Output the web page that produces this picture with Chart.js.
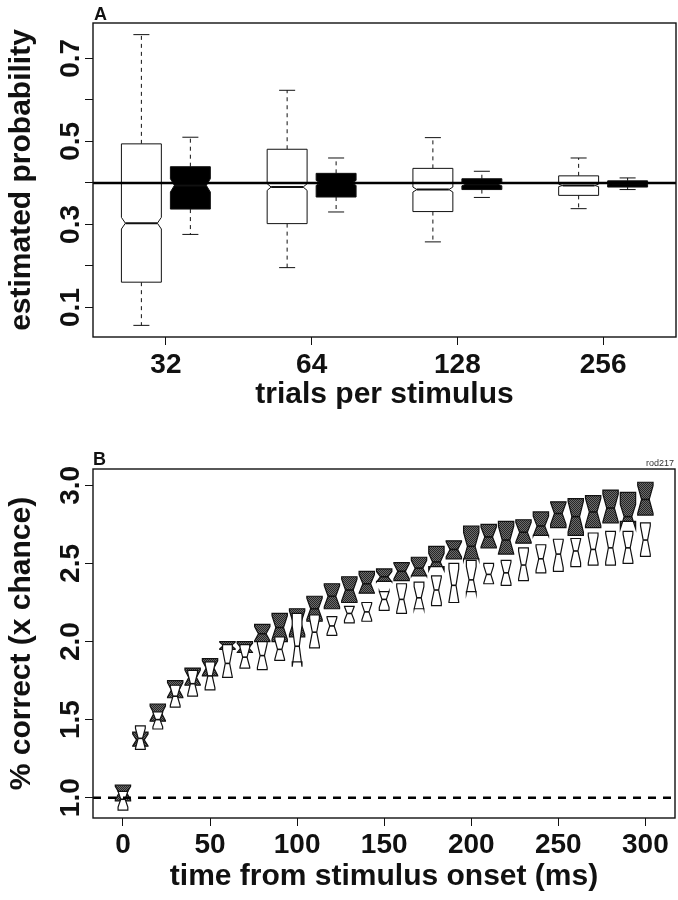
<!DOCTYPE html>
<html>
<head>
<meta charset="utf-8">
<script src="https://cdn.jsdelivr.net/npm/chart.js@4"></script>
<style>
  html, body { margin: 0; padding: 0; background: #fff; }
  body { width: 678px; height: 900px; position: relative; overflow: hidden; }
  canvas { position: absolute; left: 0; }
  #panelA { top: 0; }
  #panelB { top: 440px; }
</style>
</head>
<body>
<canvas id="panelA" width="678" height="430"></canvas>
<canvas id="panelB" width="678" height="460"></canvas>
<script>
// ---- panel A: estimated probability by trials per stimulus ----
const trials = ['32', '64', '128', '256'];
const yTicksA = [0.1, 0.2, 0.3, 0.4, 0.5, 0.6, 0.7];
const yLabelsA = ['0.1', '', '0.3', '', '0.5', '', '0.7'];
const trueProb = 0.4;

// open (white) boxes
const openLo    = [0.057, 0.196, 0.258, 0.338];
const openQ1    = [0.161, 0.302, 0.331, 0.370];
const openMed   = [0.303, 0.390, 0.384, 0.394];
const openQ3    = [0.494, 0.481, 0.435, 0.417];
const openHi    = [0.757, 0.623, 0.509, 0.460];
const openNotch = [0.014, 0.008, 0.006, 0.003];

// filled (black) boxes
const filledLo    = [0.276, 0.330, 0.365, 0.384];
const filledQ1    = [0.337, 0.366, 0.384, 0.390];
const filledMed   = [0.394, 0.400, 0.397, 0.399];
const filledQ3    = [0.439, 0.423, 0.410, 0.405];
const filledHi    = [0.510, 0.460, 0.428, 0.412];
const filledNotch = [0.016, 0.006, 0.004, 0.002];

// ---- panel B: % correct (x chance) over time ----
const times = [0, 10, 20, 30, 40, 50, 60, 70, 80, 90, 100, 110, 120, 130, 140, 150,
               160, 170, 180, 190, 200, 210, 220, 230, 240, 250, 260, 270, 280, 290, 300];
const xTicksB = [0, 50, 100, 150, 200, 250, 300];
const yTicksB = [1.0, 1.5, 2.0, 2.5, 3.0];
const chanceLevel = 1.0;
const nTrialsB = 14;

const grayQ1  = [0.98, 1.33, 1.49, 1.64, 1.72, 1.78, 1.95, 1.93, 2.00, 2.00, 2.03, 2.13, 2.21, 2.25, 2.31, 2.385,
                 2.39, 2.42, 2.48, 2.53, 2.53, 2.60, 2.56, 2.63, 2.68, 2.73, 2.68, 2.73, 2.76, 2.77, 2.81];
const grayMed = [1.03, 1.37, 1.54, 1.69, 1.77, 1.83, 1.975, 1.96, 2.05, 2.09, 2.12, 2.21, 2.29, 2.33, 2.37, 2.415,
                 2.45, 2.47, 2.51, 2.59, 2.61, 2.67, 2.65, 2.70, 2.74, 2.82, 2.80, 2.83, 2.855, 2.80, 2.91];
const grayQ3  = [1.08, 1.42, 1.60, 1.75, 1.83, 1.89, 2.00, 2.00, 2.11, 2.18, 2.21, 2.29, 2.37, 2.415, 2.45, 2.465,
                 2.505, 2.54, 2.61, 2.645, 2.74, 2.75, 2.77, 2.78, 2.83, 2.895, 2.915, 2.935, 2.97, 2.955, 3.02];

const whiteQ1  = [0.92, 1.31, 1.44, 1.58, 1.65, 1.69, 1.77, 1.83, 1.82, 1.88, 1.87, 1.96, 2.04, 2.12, 2.13, 2.20,
                  2.18, 2.21, 2.23, 2.25, 2.32, 2.37, 2.36, 2.39, 2.44, 2.45, 2.48, 2.49, 2.49, 2.50, 2.545];
const whiteMed = [0.99, 1.38, 1.50, 1.65, 1.73, 1.78, 1.86, 1.90, 1.91, 1.95, 1.97, 2.06, 2.10, 2.18, 2.19, 2.27,
                  2.27, 2.28, 2.33, 2.36, 2.395, 2.43, 2.44, 2.49, 2.53, 2.56, 2.58, 2.59, 2.60, 2.60, 2.65];
const whiteQ3  = [1.04, 1.46, 1.55, 1.72, 1.815, 1.87, 1.98, 1.98, 2.00, 2.03, 2.18, 2.17, 2.16, 2.225, 2.25, 2.32,
                  2.37, 2.38, 2.42, 2.50, 2.52, 2.50, 2.52, 2.60, 2.62, 2.655, 2.66, 2.695, 2.705, 2.705, 2.76];

const INK = '#111';
const FAMILY = '"Liberation Sans", Arial, sans-serif';
const tickFont = { family: FAMILY, size: 28, weight: 'bold' };
const titleFont = { family: FAMILY, size: 30, weight: 'bold' };

function stipple(ctx) {
    const c = document.createElement('canvas');
    c.width = 2; c.height = 2;
    const g = c.getContext('2d');
    g.fillStyle = '#6c6c6c';
    g.fillRect(0, 0, 2, 2);
    g.fillStyle = '#262626';
    g.fillRect(0, 0, 1, 1);
    g.fillRect(1, 1, 1, 1);
    return ctx.createPattern(c, 'repeat');
}

// notched box outline, same vertex order as R's bxp
function notchPath(ctx, xs, ys, pos, half, frac, q1, med, q3, nlo, nhi) {
    const L = xs.getPixelForValue(pos - half), R = xs.getPixelForValue(pos + half);
    const Li = xs.getPixelForValue(pos - half * frac), Ri = xs.getPixelForValue(pos + half * frac);
    const pts = [[L, q1], [R, q1], [R, nlo], [Ri, med], [R, nhi], [R, q3], [L, q3], [L, nhi], [Li, med], [L, nlo]];
    ctx.beginPath();
    pts.forEach(([px, v], i) => {
        const py = ys.getPixelForValue(v);
        if (i) ctx.lineTo(px, py); else ctx.moveTo(px, py);
    });
    ctx.closePath();
    return [Li, Ri, ys.getPixelForValue(med)];
}

function frame(chart) {
    const { ctx, chartArea: a } = chart;
    ctx.save();
    ctx.strokeStyle = INK;
    ctx.lineWidth = 1.4;
    ctx.strokeRect(a.left, a.top, a.right - a.left, a.bottom - a.top);
    ctx.restore();
}

const boxesA = {
    id: 'boxesA',
    afterDatasetsDraw(chart) {
        const { ctx, chartArea: a, scales: { x, y } } = chart;
        const half = 0.137, shift = 0.168, frac = 0.8, staple = 0.055;
        ctx.save();
        ctx.beginPath();
        ctx.rect(a.left, a.top, a.right - a.left, a.bottom - a.top);
        ctx.clip();

        const series = [
            { off: -shift, lo: openLo, q1: openQ1, med: openMed, q3: openQ3, hi: openHi, n: openNotch, fill: '#fff' },
            { off: shift, lo: filledLo, q1: filledQ1, med: filledMed, q3: filledQ3, hi: filledHi, n: filledNotch, fill: '#000' }
        ];

        series.forEach(s => {
            trials.forEach((_, i) => {
                const pos = i + s.off;
                const px = x.getPixelForValue(pos);
                // dashed whiskers with staples
                ctx.strokeStyle = INK;
                ctx.lineWidth = 1;
                ctx.setLineDash([4, 4]);
                ctx.beginPath();
                ctx.moveTo(px, y.getPixelForValue(s.q3[i]));
                ctx.lineTo(px, y.getPixelForValue(s.hi[i]));
                ctx.moveTo(px, y.getPixelForValue(s.q1[i]));
                ctx.lineTo(px, y.getPixelForValue(s.lo[i]));
                ctx.stroke();
                ctx.setLineDash([]);
                ctx.beginPath();
                [s.hi[i], s.lo[i]].forEach(v => {
                    const py = y.getPixelForValue(v);
                    ctx.moveTo(x.getPixelForValue(pos - staple), py);
                    ctx.lineTo(x.getPixelForValue(pos + staple), py);
                });
                ctx.stroke();
            });
        });

        series.forEach(s => {
            trials.forEach((_, i) => {
                const pos = i + s.off;
                const [Li, Ri, my] = notchPath(ctx, x, y, pos, half, frac,
                    s.q1[i], s.med[i], s.q3[i], s.med[i] - s.n[i], s.med[i] + s.n[i]);
                ctx.fillStyle = s.fill;
                ctx.fill();
                ctx.strokeStyle = INK;
                ctx.lineWidth = 1;
                ctx.stroke();
                ctx.lineWidth = 2;
                ctx.beginPath();
                ctx.moveTo(Li, my);
                ctx.lineTo(Ri, my);
                ctx.stroke();
            });
        });

        // true probability
        const ry = y.getPixelForValue(trueProb);
        ctx.strokeStyle = '#000';
        ctx.lineWidth = 2.5;
        ctx.beginPath();
        ctx.moveTo(a.left, ry);
        ctx.lineTo(a.right, ry);
        ctx.stroke();
        ctx.restore();

        frame(chart);
        ctx.save();
        ctx.fillStyle = INK;
        ctx.font = 'bold 18px ' + FAMILY;
        ctx.fillText('A', a.left + 1, a.top - 3);
        ctx.restore();
    }
};

const boxesB = {
    id: 'boxesB',
    afterDatasetsDraw(chart) {
        const { ctx, chartArea: a, scales: { x, y } } = chart;
        const k = 1.58 / Math.sqrt(nTrialsB);
        const gray = stipple(ctx);
        ctx.save();
        ctx.beginPath();
        ctx.rect(a.left, a.top, a.right - a.left, a.bottom - a.top);
        ctx.clip();

        const series = [
            { half: 4.4, frac: 0.5, q1: grayQ1, med: grayMed, q3: grayQ3, fill: gray },
            { half: 2.8, frac: 0.45, q1: whiteQ1, med: whiteMed, q3: whiteQ3, fill: '#fff' }
        ];
        series.forEach(s => {
            times.forEach((t, i) => {
                const c = k * (s.q3[i] - s.q1[i]);
                const [Li, Ri, my] = notchPath(ctx, x, y, t, s.half, s.frac,
                    s.q1[i], s.med[i], s.q3[i], s.med[i] - c, s.med[i] + c);
                ctx.fillStyle = s.fill;
                ctx.fill();
                ctx.strokeStyle = INK;
                ctx.lineWidth = 1.2;
                ctx.stroke();
                ctx.lineWidth = 1.6;
                ctx.beginPath();
                ctx.moveTo(Li, my);
                ctx.lineTo(Ri, my);
                ctx.stroke();
            });
        });

        const cy = y.getPixelForValue(chanceLevel);
        ctx.strokeStyle = '#000';
        ctx.lineWidth = 2.5;
        ctx.setLineDash([8, 7]);
        ctx.beginPath();
        ctx.moveTo(a.left, cy);
        ctx.lineTo(a.right, cy);
        ctx.stroke();
        ctx.restore();

        frame(chart);
        ctx.save();
        ctx.fillStyle = INK;
        ctx.font = 'bold 18px ' + FAMILY;
        ctx.fillText('B', a.left, a.top - 4);
        ctx.font = '9px ' + FAMILY;
        ctx.fillStyle = '#333';
        ctx.textAlign = 'right';
        ctx.fillText('rod217', a.right - 1, a.top - 3);
        ctx.restore();
    }
};

function axisGrid() {
    return { drawOnChartArea: false, drawTicks: true, tickLength: 8, color: INK, lineWidth: 1 };
}

new Chart(document.getElementById('panelA'), {
    type: 'line',
    data: {
        labels: trials,
        datasets: [
            { data: openMed, showLine: false, pointRadius: 0 },
            { data: filledMed, showLine: false, pointRadius: 0 }
        ]
    },
    options: {
        responsive: false,
        animation: false,
        devicePixelRatio: 1,
        layout: { padding: { top: 23, right: 2, left: 0, bottom: 0 } },
        plugins: { legend: { display: false }, tooltip: { enabled: false } },
        scales: {
            x: {
                type: 'category',
                offset: true,
                border: { display: false },
                grid: axisGrid(),
                ticks: { font: tickFont, color: INK, padding: 3, maxRotation: 0, autoSkip: false },
                title: { display: true, text: 'trials per stimulus', font: titleFont, color: INK, padding: { top: 0, bottom: 17 } },
                afterFit: s => { s.height = 93; }
            },
            y: {
                min: 0.029,
                max: 0.785,
                border: { display: false },
                grid: axisGrid(),
                afterBuildTicks: s => { s.ticks = yTicksA.map(v => ({ value: v })); },
                ticks: {
                    font: tickFont, color: INK, autoSkip: false,
                    minRotation: 90, maxRotation: 90, crossAlign: 'center', padding: -6,
                    callback: (v, i) => yLabelsA[i]
                },
                title: { display: true, text: 'estimated probability', font: titleFont, color: INK, padding: { top: 4, bottom: 0 } },
                afterFit: s => { s.width = 93; }
            }
        }
    },
    plugins: [boxesA]
});

new Chart(document.getElementById('panelB'), {
    type: 'scatter',
    data: {
        datasets: [
            { data: times.map((t, i) => ({ x: t, y: grayMed[i] })), pointRadius: 0 },
            { data: times.map((t, i) => ({ x: t, y: whiteMed[i] })), pointRadius: 0 }
        ]
    },
    options: {
        responsive: false,
        animation: false,
        devicePixelRatio: 1,
        layout: { padding: { top: 29, right: 3, left: 0, bottom: 0 } },
        plugins: { legend: { display: false }, tooltip: { enabled: false } },
        scales: {
            x: {
                type: 'linear',
                min: -17.2,
                max: 317,
                border: { display: false },
                grid: axisGrid(),
                afterBuildTicks: s => { s.ticks = xTicksB.map(v => ({ value: v })); },
                ticks: { font: tickFont, color: INK, padding: 2, maxRotation: 0, autoSkip: false, callback: v => String(v) },
                title: { display: true, text: 'time from stimulus onset (ms)', font: titleFont, color: INK, padding: { top: 0, bottom: 5 } },
                afterFit: s => { s.height = 82; }
            },
            y: {
                type: 'linear',
                min: 0.87,
                max: 3.105,
                border: { display: false },
                grid: axisGrid(),
                afterBuildTicks: s => { s.ticks = yTicksB.map(v => ({ value: v })); },
                ticks: {
                    font: tickFont, color: INK, autoSkip: false,
                    minRotation: 90, maxRotation: 90, crossAlign: 'center', padding: -6,
                    callback: v => v.toFixed(1)
                },
                title: { display: true, text: '% correct (x chance)', font: titleFont, color: INK, padding: { top: 4, bottom: 0 } },
                afterFit: s => { s.width = 93; }
            }
        }
    },
    plugins: [boxesB]
});
</script>
</body>
</html>
